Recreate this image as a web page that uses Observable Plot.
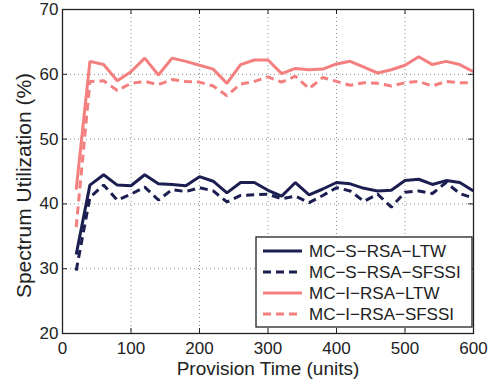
<!DOCTYPE html>
<html><head><meta charset="utf-8">
<script src="https://cdn.jsdelivr.net/npm/d3@7"></script>
<script src="https://cdn.jsdelivr.net/npm/@observablehq/plot@0.6"></script>
<style>body{margin:0;background:#fff} svg{display:block}</style>
</head><body><div id="chart"></div>
<script>
const time = [20,40,60,80,100,120,140,160,180,200,220,240,260,280,300,320,340,360,380,400,420,440,460,480,500,520,540,560,580,600];
const sLTW   = [32.2,42.9,44.5,42.9,42.8,44.5,43.1,43.0,42.8,44.2,43.5,41.7,43.3,43.3,42.1,41.2,43.3,41.4,42.3,43.3,43.1,42.4,42.0,42.1,43.6,43.8,43.0,43.6,43.3,42.0];
const sSFSSI = [29.7,41.0,42.9,40.6,41.5,42.6,40.6,42.2,41.9,42.5,42.0,40.3,41.3,41.4,41.5,40.8,41.2,40.2,41.3,42.5,42.0,40.4,41.5,39.5,41.8,42.0,41.6,43.3,41.6,40.9];
const iLTW   = [42.2,62.0,61.5,59.0,60.4,62.5,59.9,62.5,62.0,61.4,60.8,58.6,61.5,62.2,62.2,60.1,60.9,60.7,60.8,61.6,62.0,61.1,60.2,60.7,61.4,62.7,61.5,62.0,61.5,60.4];
const iSFSSI = [36.4,58.9,59.0,57.5,58.6,58.9,58.4,59.2,58.9,58.8,58.2,56.7,58.5,58.9,59.6,58.8,59.7,57.8,59.5,58.9,58.3,58.7,58.6,58.2,58.7,58.9,58.2,58.9,58.7,58.7];

const seriesNames  = ["MC\u2212S\u2212RSA\u2212LTW","MC\u2212S\u2212RSA\u2212SFSSI","MC\u2212I\u2212RSA\u2212LTW","MC\u2212I\u2212RSA\u2212SFSSI"];
const seriesValues = [sLTW, sSFSSI, iLTW, iSFSSI];
const seriesColors = ["#1b1e50","#1b1e50","#f47f7f","#f47f7f"];
const seriesDash   = [null,"8,5",null,"8,5"];

const xTicks = [0,100,200,300,400,500,600];
const yTicks = [20,30,40,50,60,70];
const xInner = [100,200,300,400,500];
const yInner = [30,40,50,60];

const W = 492, H = 381, mL = 62, mT = 9, mR = 19, mB = 48;
const pw = W - mL - mR, ph = H - mT - mB;
const FONT = "'Liberation Sans', Arial, Helvetica, sans-serif";

const rows = seriesNames.map((s, i) => time.map((t, j) => ({t, v: seriesValues[i][j], s})));

const lineMarks = rows.map((r, i) => Plot.line(r, {
  x: "t", y: "v", stroke: seriesColors[i], strokeWidth: 3,
  strokeDasharray: seriesDash[i] || undefined, strokeLinejoin: "miter", strokeLinecap: "butt"
}));

const plot = Plot.plot({
  width: W, height: H,
  marginLeft: mL, marginTop: mT, marginRight: mR, marginBottom: mB,
  style: {fontFamily: FONT, fontSize: "17px", color: "#222", background: "#fff"},
  x: {domain: [0, 600]},
  y: {domain: [20, 70]},
  marks: [
    Plot.ruleX(xInner, {stroke: "#888", strokeDasharray: "1,3"}),
    Plot.ruleY(yInner, {stroke: "#888", strokeDasharray: "1,3"}),
    ...lineMarks,
    Plot.ruleX(xTicks, {insetTop: ph - 5, stroke: "#222"}),
    Plot.ruleX(xTicks, {insetBottom: ph - 5, stroke: "#222"}),
    Plot.ruleY(yTicks, {insetRight: pw - 5, stroke: "#222"}),
    Plot.ruleY(yTicks, {insetLeft: pw - 5, stroke: "#222"}),
    Plot.frame({stroke: "#222", strokeWidth: 1.3}),
    Plot.axisX({ticks: xTicks, tickSize: 0, tickPadding: 8, label: null, fontSize: 17}),
    Plot.axisY({ticks: yTicks, tickSize: 0, tickPadding: 4, label: null, fontSize: 17}),
    Plot.text(["Provision Time (units)"], {frameAnchor: "bottom", textAnchor: "middle", dy: 41, fontSize: 19, fill: "#222"}),
    Plot.text(["Spectrum Utilization (%)"], {frameAnchor: "left", textAnchor: "middle", rotate: -90, dx: -38, dy: 14, fontSize: 21, fill: "#222"})
  ]
});

// Legend
const svg = d3.select(plot);
const lg = svg.append("g").attr("font-family", FONT).attr("font-size", 17).attr("fill", "#222").attr("text-anchor", "start");
lg.append("rect").attr("x", 256).attr("y", 237).attr("width", 216).attr("height", 90)
  .attr("fill", "#fff").attr("stroke", "#222").attr("stroke-width", 1.3);
const ly = [251, 272, 293, 314];
seriesNames.forEach((s, i) => {
  lg.append("line").attr("x1", 263).attr("x2", 302).attr("y1", ly[i]).attr("y2", ly[i])
    .attr("stroke", seriesColors[i]).attr("stroke-width", 3)
    .attr("stroke-dasharray", seriesDash[i]);
  lg.append("text").attr("x", 309).attr("y", ly[i]).attr("dy", "0.35em").attr("text-anchor", "start").text(s);
});

document.getElementById("chart").appendChild(plot);
</script>
</body></html>
